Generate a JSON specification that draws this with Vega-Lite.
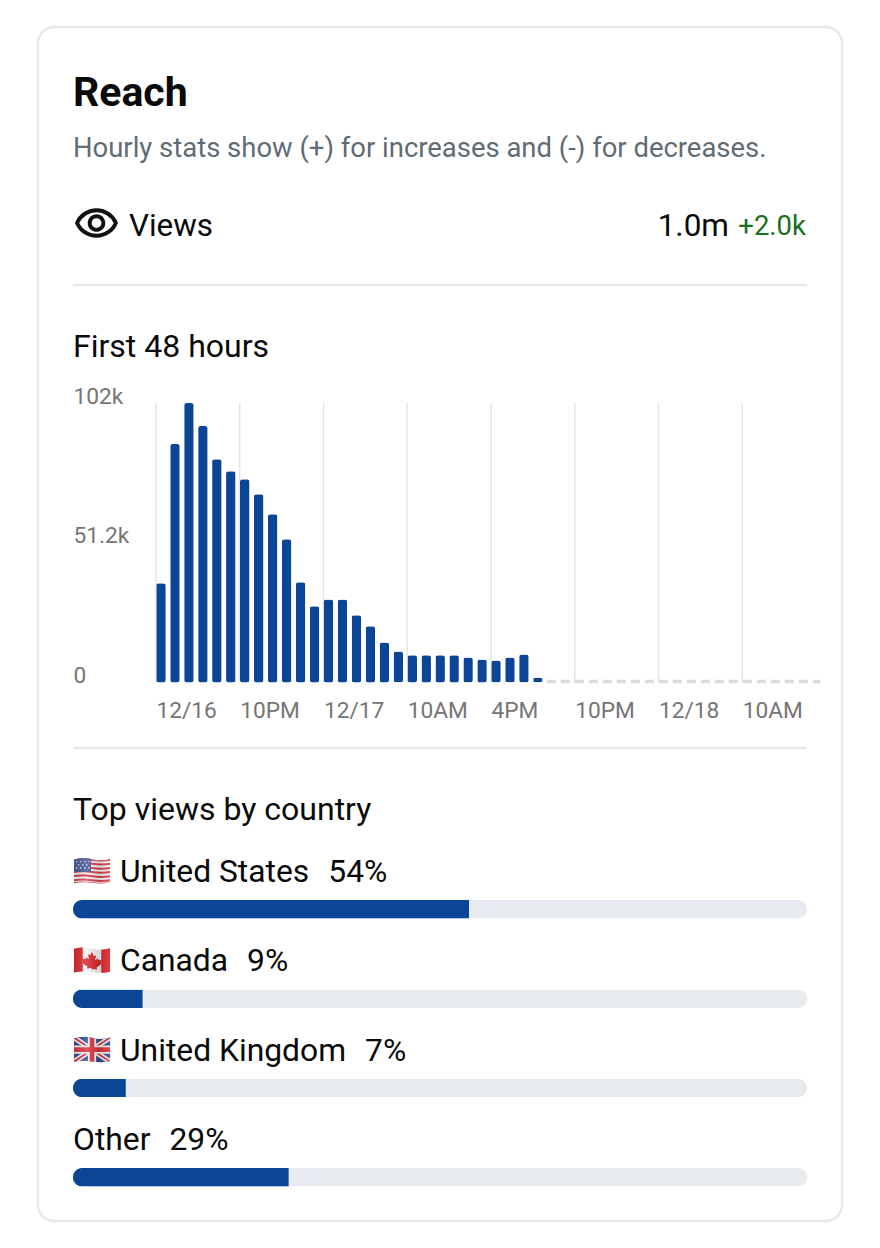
{
  "$schema": "https://vega.github.io/schema/vega-lite/v6.json",
  "width": 804,
  "height": 1194,
  "autosize": {"type": "none"},
  "padding": {"left": 38, "top": 27, "right": 38, "bottom": 27},
  "background": "white",
  "view": {"stroke": "#e6e8ea", "strokeWidth": 2.5, "cornerRadius": 16, "fill": "white"},
  "config": {"font": "Roboto", "text": {"font": "Roboto"}},
  "resolve": {"scale": {"x": "independent", "y": "independent"}, "axis": {"x": "independent", "y": "independent"}},
  "datasets": {
    "hourly": [
      {"hour": 0, "views": 36.2}, {"hour": 1, "views": 87}, {"hour": 2, "views": 102}, {"hour": 3, "views": 93.6},
      {"hour": 4, "views": 81.5}, {"hour": 5, "views": 77.1}, {"hour": 6, "views": 74.2}, {"hour": 7, "views": 68.7},
      {"hour": 8, "views": 61.4}, {"hour": 9, "views": 52.3}, {"hour": 10, "views": 36.6}, {"hour": 11, "views": 27.8},
      {"hour": 12, "views": 30.3}, {"hour": 13, "views": 30.3}, {"hour": 14, "views": 24.5}, {"hour": 15, "views": 20.5},
      {"hour": 16, "views": 14.6}, {"hour": 17, "views": 11.3}, {"hour": 18, "views": 9.9}, {"hour": 19, "views": 9.9},
      {"hour": 20, "views": 9.9}, {"hour": 21, "views": 9.9}, {"hour": 22, "views": 9.1}, {"hour": 23, "views": 8.4},
      {"hour": 24, "views": 8.0}, {"hour": 25, "views": 9.1}, {"hour": 26, "views": 10.2}, {"hour": 27, "views": 1.8}
    ],
    "ticks": [{"hour": 0}, {"hour": 6}, {"hour": 12}, {"hour": 18}, {"hour": 24}, {"hour": 30}, {"hour": 36}, {"hour": 42}],
    "countries": [
      {"country": "United States", "label": "United States\u00a0\u00a0\u200a54%", "share": 53.95, "total": 100,
       "flag": "data:image/svg+xml,%3Csvg xmlns='http://www.w3.org/2000/svg' viewBox='0 0 36 28'%3E%3Cdefs%3E%3CclipPath id='c'%3E%3Cpath d='M0 3Q9 0 18 2.500T36 2V25Q27 27 18 25.500T0 26Z'/%3E%3C/clipPath%3E%3ClinearGradient id='g'%3E%3Cstop offset='0' stop-color='%23000' stop-opacity='.1'/%3E%3Cstop offset='.35' stop-color='%23fff' stop-opacity='.15'/%3E%3Cstop offset='.7' stop-color='%23000' stop-opacity='.12'/%3E%3Cstop offset='1' stop-color='%23fff' stop-opacity='.1'/%3E%3C/linearGradient%3E%3C/defs%3E%3Cg clip-path='url(%23c)'%3E%3Crect width='36' height='28' fill='%23f3f3f5'/%3E%3Cg fill='none' stroke='%23d8404c' stroke-width='2'%3E%3Cpath d='M0 3Q9 1.500 18 3T36 3M0 7Q9 5.500 18 7T36 7M0 11Q9 9.500 18 11T36 11M0 15Q9 13.500 18 15T36 15M0 19Q9 17.500 18 19T36 19M0 23Q9 21.500 18 23T36 23M0 26Q9 24.500 18 26T36 26'/%3E%3C/g%3E%3Crect width='17' height='15' fill='%234a5a96'/%3E%3Cg fill='%23d4d9ec'%3E%3Ccircle cx='3' cy='5' r='.8'/%3E%3Ccircle cx='7' cy='5' r='.8'/%3E%3Ccircle cx='11' cy='5' r='.8'/%3E%3Ccircle cx='15' cy='5' r='.8'/%3E%3Ccircle cx='5' cy='8' r='.8'/%3E%3Ccircle cx='9' cy='8' r='.8'/%3E%3Ccircle cx='13' cy='8' r='.8'/%3E%3Ccircle cx='3' cy='11' r='.8'/%3E%3Ccircle cx='7' cy='11' r='.8'/%3E%3Ccircle cx='11' cy='11' r='.8'/%3E%3Ccircle cx='15' cy='11' r='.8'/%3E%3C/g%3E%3Crect width='36' height='28' fill='url(%23g)'/%3E%3C/g%3E%3C/svg%3E"},
      {"country": "Canada", "label": "Canada\u00a0\u00a0\u200a9%", "share": 9.5, "total": 100,
       "flag": "data:image/svg+xml,%3Csvg xmlns='http://www.w3.org/2000/svg' viewBox='0 0 36 28'%3E%3Cdefs%3E%3CclipPath id='c'%3E%3Cpath d='M0 3Q9 0 18 2.500T36 2V25Q27 27 18 25.500T0 26Z'/%3E%3C/clipPath%3E%3ClinearGradient id='g'%3E%3Cstop offset='0' stop-color='%23000' stop-opacity='.1'/%3E%3Cstop offset='.35' stop-color='%23fff' stop-opacity='.15'/%3E%3Cstop offset='.7' stop-color='%23000' stop-opacity='.12'/%3E%3Cstop offset='1' stop-color='%23fff' stop-opacity='.1'/%3E%3C/linearGradient%3E%3C/defs%3E%3Cg clip-path='url(%23c)'%3E%3Crect width='36' height='28' fill='%23f4f4f4'/%3E%3Crect width='9' height='28' fill='%23d9292f'/%3E%3Crect x='27' width='9' height='28' fill='%23d9292f'/%3E%3Cpath d='M18 6l2 4 2-1-1 5 3-2 .5 2 3-.5-1 3 1 1-5 3.500.5 2-4.500-.5V23h-1v-1.500l-4.500.5.5-2-5-3.500 1-1-1-3 3 .5.5-2 3 2-1-5 2 1z' fill='%23d9292f'/%3E%3Crect width='36' height='28' fill='url(%23g)'/%3E%3C/g%3E%3C/svg%3E"},
      {"country": "United Kingdom", "label": "United Kingdom\u00a0\u00a0\u200a7%", "share": 7.2, "total": 100,
       "flag": "data:image/svg+xml,%3Csvg xmlns='http://www.w3.org/2000/svg' viewBox='0 0 36 28'%3E%3Cdefs%3E%3CclipPath id='c'%3E%3Cpath d='M0 3Q9 0 18 2.500T36 2V25Q27 27 18 25.500T0 26Z'/%3E%3C/clipPath%3E%3ClinearGradient id='g'%3E%3Cstop offset='0' stop-color='%23000' stop-opacity='.1'/%3E%3Cstop offset='.35' stop-color='%23fff' stop-opacity='.15'/%3E%3Cstop offset='.7' stop-color='%23000' stop-opacity='.12'/%3E%3Cstop offset='1' stop-color='%23fff' stop-opacity='.1'/%3E%3C/linearGradient%3E%3C/defs%3E%3Cg clip-path='url(%23c)'%3E%3Crect width='36' height='28' fill='%23374a8c'/%3E%3Cpath d='M0 2L36 26M36 2L0 26' stroke='%23f2f2f2' stroke-width='5'/%3E%3Cpath d='M0 2L36 26M36 2L0 26' stroke='%23d9343f' stroke-width='1.800'/%3E%3Cpath d='M18 0V28M0 14H36' stroke='%23f2f2f2' stroke-width='8'/%3E%3Cpath d='M18 0V28M0 14H36' stroke='%23d9343f' stroke-width='4.500'/%3E%3Crect width='36' height='28' fill='url(%23g)'/%3E%3C/g%3E%3C/svg%3E"},
      {"country": "Other", "label": "Other\u00a0\u00a0\u200a29%", "share": 29.4, "total": 100}
    ]
  },
  "layer": [
    {
      "data": {"values": [{"label": "Reach"}]},
      "mark": {"type": "text", "align": "left", "baseline": "alphabetic", "fontSize": 41, "fontWeight": "bold", "color": "#0a0a0a"},
      "encoding": {"text": {"field": "label"}, "x": {"value": 35}, "y": {"value": 79}}
    },
    {
      "data": {"values": [{"label": "Hourly stats show (+) for increases and (-) for decreases."}]},
      "mark": {"type": "text", "align": "left", "baseline": "alphabetic", "fontSize": 27.45, "color": "#5f6c74"},
      "encoding": {"text": {"field": "label"}, "x": {"value": 35}, "y": {"value": 130}}
    },
    {
      "data": {"values": [{"icon": "data:image/svg+xml,%3Csvg xmlns='http://www.w3.org/2000/svg' viewBox='0 0 24 24'%3E%3Cpath fill='%23111' d='M12 6a9.770 9.770 0 0 1 8.820 5.500C19.170 14.870 15.790 17 12 17s-7.170-2.130-8.820-5.500A9.770 9.770 0 0 1 12 6m0-2C7 4 2.730 7.110 1 11.500 2.730 15.890 7 19 12 19s9.270-3.110 11-7.500C21.270 7.110 17 4 12 4zm0 5a2.500 2.500 0 0 1 0 5 2.500 2.500 0 0 1 0-5m0-2c-2.480 0-4.500 2.020-4.500 4.500S9.520 16 12 16s4.500-2.020 4.500-4.500S14.480 7 12 7z'/%3E%3C/svg%3E"}]},
      "mark": {"type": "image", "width": 47, "height": 47},
      "encoding": {"url": {"field": "icon"}, "x": {"value": 58.5}, "y": {"value": 197}}
    },
    {
      "data": {"values": [{"label": "Views"}]},
      "mark": {"type": "text", "align": "left", "baseline": "alphabetic", "fontSize": 31.4, "color": "#0a0a0a"},
      "encoding": {"text": {"field": "label"}, "x": {"value": 91}, "y": {"value": 209}}
    },
    {
      "data": {"values": [{"label": "1.0m"}]},
      "mark": {"type": "text", "align": "right", "baseline": "alphabetic", "fontSize": 31.5, "color": "#0a0a0a"},
      "encoding": {"text": {"field": "label"}, "x": {"value": 691}, "y": {"value": 209}}
    },
    {
      "data": {"values": [{"label": "+2.0k"}]},
      "mark": {"type": "text", "align": "right", "baseline": "alphabetic", "fontSize": 27.5, "color": "#1b6e1e"},
      "encoding": {"text": {"field": "label"}, "x": {"value": 768}, "y": {"value": 208}}
    },
    {
      "data": {"values": [{"from": 0, "to": 100}]},
      "mark": {"type": "rule", "color": "#e5e6e8", "strokeWidth": 2},
      "encoding": {
        "x": {"field": "from", "type": "quantitative", "axis": null, "scale": {"domain": [0, 100], "range": [35, 769], "nice": false}},
        "x2": {"field": "to"},
        "y": {"value": 258}
      }
    },
    {
      "data": {"values": [{"label": "First 48 hours"}]},
      "mark": {"type": "text", "align": "left", "baseline": "alphabetic", "fontSize": 32, "color": "#0a0a0a"},
      "encoding": {"text": {"field": "label"}, "x": {"value": 35}, "y": {"value": 330}}
    },
    {
      "data": {"name": "ticks"},
      "mark": {"type": "rule", "color": "#e3e5e7", "strokeWidth": 1.5},
      "encoding": {
        "x": {
          "field": "hour",
          "type": "quantitative",
          "scale": {"domain": [0, 48], "range": [118, 788], "nice": false},
          "axis": {
            "orient": "bottom",
            "offset": -539,
            "title": null,
            "values": [0, 6, 12, 18, 24, 30, 36, 42],
            "labelExpr": "['12/16','10PM','12/17','10AM','4PM','10PM','12/18','10AM'][datum.value/6]",
            "grid": false,
            "domain": false,
            "ticks": false,
            "labelAlign": "left",
            "labelBaseline": "top",
            "labelPadding": 17,
            "labelFontSize": 22.7,
            "labelColor": "#757575",
            "labelOverlap": false,
            "labelFlush": false,
            "labelBound": false
          }
        },
        "y": {"datum": 0, "type": "quantitative", "axis": null, "scale": {"domain": [0, 102], "range": [655.5, 376], "nice": false}},
        "y2": {"datum": 102}
      }
    },
    {
      "data": {"values": [{"start": 28, "end": 47.6, "level": 0.4}]},
      "mark": {"type": "rule", "color": "#dadbde", "strokeWidth": 3.5, "strokeDash": [9, 5]},
      "encoding": {
        "x": {"field": "start", "type": "quantitative", "axis": null, "scale": {"domain": [0, 48], "range": [118, 788], "nice": false}},
        "x2": {"field": "end"},
        "y": {"field": "level", "type": "quantitative", "axis": null, "scale": {"domain": [0, 102], "range": [655.5, 376], "nice": false}}
      }
    },
    {
      "data": {"name": "hourly"},
      "mark": {"type": "bar", "color": "#0b4596", "size": 9.5, "xOffset": 5, "cornerRadius": 2.5},
      "encoding": {
        "x": {"field": "hour", "type": "quantitative", "axis": null, "scale": {"domain": [0, 48], "range": [118, 788], "nice": false, "padding": 0}},
        "y": {
          "field": "views",
          "type": "quantitative",
          "scale": {"domain": [0, 102], "range": [655.5, 376], "nice": false},
          "axis": {
            "orient": "left",
            "offset": -35,
            "title": null,
            "values": [0, 51.2, 102],
            "labelExpr": "datum.value === 0 ? '0' : datum.value + 'k'",
            "grid": false,
            "domain": false,
            "ticks": false,
            "labelAlign": "left",
            "labelBaseline": "middle",
            "labelPadding": 0,
            "labelOffset": -7,
            "labelFontSize": 22.7,
            "labelColor": "#757575",
            "labelOverlap": false,
            "labelFlush": false,
            "labelBound": false
          }
        }
      }
    },
    {
      "data": {"values": [{"from": 0, "to": 100}]},
      "mark": {"type": "rule", "color": "#e5e6e8", "strokeWidth": 2},
      "encoding": {
        "x": {"field": "from", "type": "quantitative", "axis": null, "scale": {"domain": [0, 100], "range": [35, 769], "nice": false}},
        "x2": {"field": "to"},
        "y": {"value": 721}
      }
    },
    {
      "data": {"values": [{"label": "Top views by country"}]},
      "mark": {"type": "text", "align": "left", "baseline": "alphabetic", "fontSize": 32, "color": "#0a0a0a"},
      "encoding": {"text": {"field": "label"}, "x": {"value": 35}, "y": {"value": 793}}
    },
    {
      "data": {"name": "countries"},
      "transform": [{"filter": "datum.flag"}],
      "mark": {"type": "image", "width": 37, "height": 29},
      "encoding": {
        "url": {"field": "flag"},
        "x": {"value": 54},
        "y": {"field": "country", "type": "nominal", "axis": null, "scale": {"type": "point", "domain": ["United States", "Canada", "United Kingdom", "Other"], "range": [844, 1112], "padding": 0}}
      }
    },
    {
      "data": {"name": "countries"},
      "transform": [{"filter": "datum.flag"}],
      "mark": {"type": "text", "align": "left", "baseline": "alphabetic", "fontSize": 31.8, "color": "#0a0a0a"},
      "encoding": {
        "text": {"field": "label"},
        "x": {"value": 82},
        "y": {"field": "country", "type": "nominal", "axis": null, "scale": {"type": "point", "domain": ["United States", "Canada", "United Kingdom", "Other"], "range": [855, 1123], "padding": 0}}
      }
    },
    {
      "data": {"name": "countries"},
      "transform": [{"filter": "!datum.flag"}],
      "mark": {"type": "text", "align": "left", "baseline": "alphabetic", "fontSize": 31.8, "color": "#0a0a0a"},
      "encoding": {
        "text": {"field": "label"},
        "x": {"value": 35},
        "y": {"field": "country", "type": "nominal", "axis": null, "scale": {"type": "point", "domain": ["United States", "Canada", "United Kingdom", "Other"], "range": [855, 1123], "padding": 0}}
      }
    },
    {
      "data": {"name": "countries"},
      "mark": {"type": "bar", "color": "#e7eaee", "size": 18.5, "cornerRadius": 9},
      "encoding": {
        "x": {"field": "total", "type": "quantitative", "axis": null, "scale": {"domain": [0, 100], "range": [35, 769], "nice": false}},
        "y": {"field": "country", "type": "nominal", "axis": null, "scale": {"type": "point", "domain": ["United States", "Canada", "United Kingdom", "Other"], "range": [882.3, 1150.3], "padding": 0}}
      }
    },
    {
      "data": {"name": "countries"},
      "mark": {"type": "bar", "color": "#0b4596", "size": 18.5, "cornerRadiusTopLeft": 9, "cornerRadiusBottomLeft": 9},
      "encoding": {
        "x": {"field": "share", "type": "quantitative", "axis": null, "scale": {"domain": [0, 100], "range": [35, 769], "nice": false}},
        "y": {"field": "country", "type": "nominal", "axis": null, "scale": {"type": "point", "domain": ["United States", "Canada", "United Kingdom", "Other"], "range": [882.3, 1150.3], "padding": 0}}
      }
    }
  ]
}
